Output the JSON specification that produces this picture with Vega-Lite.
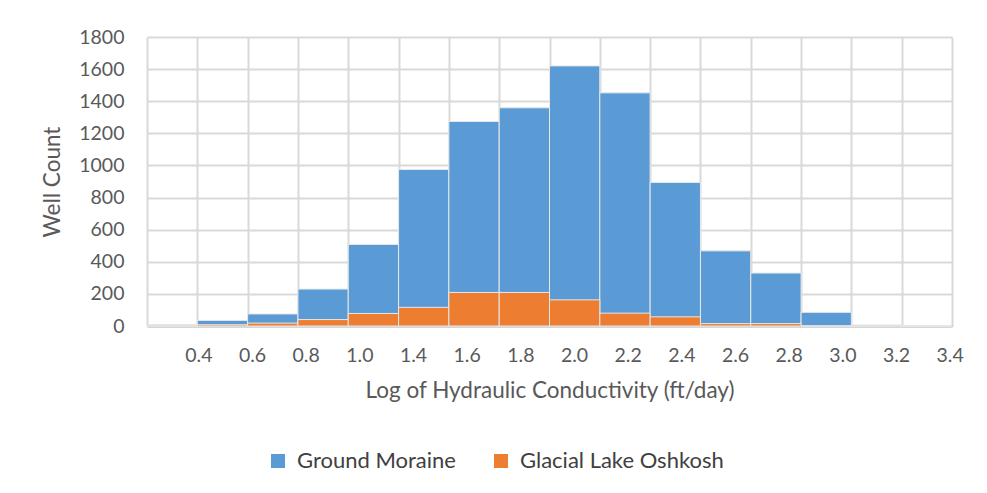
{
  "$schema": "https://vega.github.io/schema/vega-lite/v6.json",
  "width": 805,
  "height": 289,
  "autosize": {"type": "none"},
  "padding": {"left": 147, "top": 37, "right": 35, "bottom": 167},
  "background": "white",
  "config": {
    "font": "Lato",
    "view": {"stroke": null},
    "axis": {"labelFont": "Lato", "titleFont": "Lato", "labelColor": "#595959", "titleColor": "#595959", "titleFontWeight": "normal"}
  },
  "layer": [
    {
      "data": {
        "values": [
          {"bin": 1, "series": "Ground Moraine", "count": 8},
          {"bin": 2, "series": "Ground Moraine", "count": 35},
          {"bin": 3, "series": "Ground Moraine", "count": 75},
          {"bin": 4, "series": "Ground Moraine", "count": 230},
          {"bin": 5, "series": "Ground Moraine", "count": 508},
          {"bin": 6, "series": "Ground Moraine", "count": 975},
          {"bin": 7, "series": "Ground Moraine", "count": 1274},
          {"bin": 8, "series": "Ground Moraine", "count": 1359},
          {"bin": 9, "series": "Ground Moraine", "count": 1620},
          {"bin": 10, "series": "Ground Moraine", "count": 1452},
          {"bin": 11, "series": "Ground Moraine", "count": 894},
          {"bin": 12, "series": "Ground Moraine", "count": 468},
          {"bin": 13, "series": "Ground Moraine", "count": 330},
          {"bin": 14, "series": "Ground Moraine", "count": 85},
          {"bin": 15, "series": "Ground Moraine", "count": 7},
          {"bin": 16, "series": "Ground Moraine", "count": 0},
          {"bin": 1, "series": "Glacial Lake Oshkosh", "count": 0},
          {"bin": 2, "series": "Glacial Lake Oshkosh", "count": 8},
          {"bin": 3, "series": "Glacial Lake Oshkosh", "count": 18},
          {"bin": 4, "series": "Glacial Lake Oshkosh", "count": 40},
          {"bin": 5, "series": "Glacial Lake Oshkosh", "count": 78},
          {"bin": 6, "series": "Glacial Lake Oshkosh", "count": 116},
          {"bin": 7, "series": "Glacial Lake Oshkosh", "count": 209},
          {"bin": 8, "series": "Glacial Lake Oshkosh", "count": 209},
          {"bin": 9, "series": "Glacial Lake Oshkosh", "count": 163},
          {"bin": 10, "series": "Glacial Lake Oshkosh", "count": 80},
          {"bin": 11, "series": "Glacial Lake Oshkosh", "count": 57},
          {"bin": 12, "series": "Glacial Lake Oshkosh", "count": 15},
          {"bin": 13, "series": "Glacial Lake Oshkosh", "count": 15},
          {"bin": 14, "series": "Glacial Lake Oshkosh", "count": 0},
          {"bin": 15, "series": "Glacial Lake Oshkosh", "count": 0},
          {"bin": 16, "series": "Glacial Lake Oshkosh", "count": 0}
        ]
      },
      "mark": {"type": "bar", "stroke": "#e8e8e8", "strokeWidth": 1},
      "encoding": {
        "x": {
          "field": "bin", "type": "ordinal", "sort": null,
          "scale": {"paddingInner": 0, "paddingOuter": 0},
          "axis": {"labels": false, "ticks": false, "title": null, "grid": true, "tickBand": "extent", "gridColor": "#d9d9d9", "gridWidth": 2, "domainColor": "#bfbfbf", "domainWidth": 2}
        },
        "y": {
          "field": "count", "type": "quantitative", "stack": null,
          "scale": {"domain": [0, 1800]},
          "axis": {"values": [0, 200, 400, 600, 800, 1000, 1200, 1400, 1600, 1800], "format": "d", "grid": true, "gridColor": "#d9d9d9", "gridWidth": 2, "domain": false, "ticks": false, "labelPadding": 23, "labelFontSize": 19.5, "title": "Well Count", "titleFontSize": 22.5, "titlePadding": 14}
        },
        "color": {
          "field": "series", "type": "nominal",
          "scale": {"domain": ["Ground Moraine", "Glacial Lake Oshkosh"], "range": ["#5B9BD5", "#ED7D31"]},
          "legend": {"orient": "none", "legendX": 120, "legendY": 413, "direction": "horizontal", "title": null, "symbolType": "square", "symbolSize": 196, "symbolStrokeWidth": 0, "labelFontSize": 22, "labelFont": "Lato", "labelColor": "#404040", "labelLimit": 0, "columnPadding": 34, "labelOffset": 8}
        }
      }
    },
    {
      "data": {
        "values": [
          {"label": "0.4"}, {"label": "0.6"}, {"label": "0.8"}, {"label": "1.0"}, {"label": "1.4"},
          {"label": "1.6"}, {"label": "1.8"}, {"label": "2.0"}, {"label": "2.2"}, {"label": "2.4"},
          {"label": "2.6"}, {"label": "2.8"}, {"label": "3.0"}, {"label": "3.2"}, {"label": "3.4"}
        ]
      },
      "mark": {"type": "tick", "opacity": 0},
      "encoding": {
        "x": {
          "field": "label", "type": "ordinal", "sort": null,
          "scale": {"paddingInner": 0, "paddingOuter": 0},
          "axis": {"orient": "bottom", "labelOffset": 25, "labelAngle": 0, "labelOverlap": false, "ticks": false, "domain": false, "grid": false, "labelPadding": 20, "labelFontSize": 19.5, "title": "Log of Hydraulic Conductivity (ft/day)", "titleFontSize": 22.5, "titlePadding": 15}
        }
      }
    }
  ],
  "resolve": {"scale": {"x": "independent"}}
}
